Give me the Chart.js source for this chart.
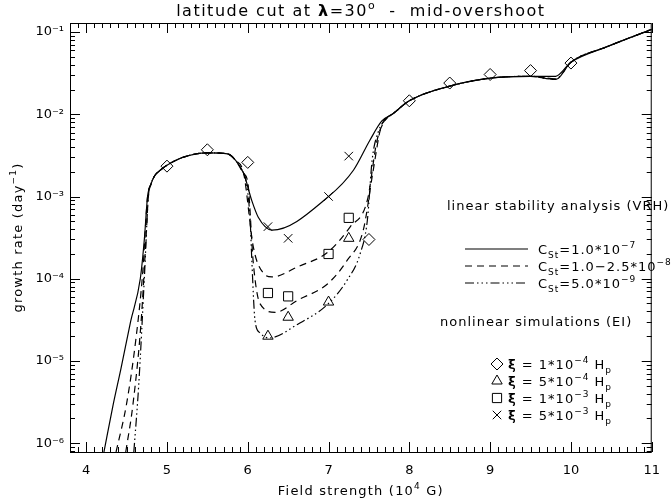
<!DOCTYPE html>
<html>
<head>
<meta charset="utf-8">
<script src="https://cdn.jsdelivr.net/npm/chart.js@4.4.0/dist/chart.umd.min.js"></script>
<style>
html, body { margin: 0; padding: 0; background: #fff; }
</style>
</head>
<body>
<canvas id="grafico" width="671" height="503"></canvas>
<script>
// Datos: campo (10^4 G) y tasa de crecimiento (day^-1)

// Tramos comunes a las tres curvas de estabilidad lineal
const mesetaX = [4.8, 4.85, 4.92, 5.0, 5.2, 5.5, 5.75, 5.85, 5.95];
const mesetaY = [1.4e-3, 1.8e-3, 2.1e-3, 2.4e-3, 3.0e-3, 3.4e-3, 3.3e-3, 2.75e-3, 1.9e-3];
const altoX = [7.8, 8.0, 8.5, 9.0, 9.5];
const altoY = [1.02e-2, 1.46e-2, 2.2e-2, 2.75e-2, 2.9e-2];
const finalX = [10.0, 10.44, 11.0];
const finalY = [4.3e-2, 6.6e-2, 0.108];

// C_St = 1.0e-7 (continua)
const solidaIzqX = [4.22, 4.33, 4.43, 4.55, 4.67, 4.72, 4.76];
const solidaIzqY = [7.8e-7, 2.8e-6, 8e-6, 3e-5, 1e-4, 3e-4, 1e-3];
const solidaMedX = [6.05, 6.13, 6.3, 7.0, 7.31, 7.51, 7.66];
const solidaMedY = [8.9e-4, 5.6e-4, 3.9e-4, 1.0e-3, 2.1e-3, 4.8e-3, 8.3e-3];
const solidaSaltoX = [9.81];
const solidaSaltoY = [2.9e-2];

// C_St = 1.0-2.5e-8 (dos curvas a trazos)
const trazoAIzqX = [4.37, 4.5, 4.62, 4.7, 4.76];
const trazoAIzqY = [7.8e-7, 3e-6, 2e-5, 1.2e-4, 1e-3];
const trazoAMedX = [6.07, 6.2, 6.3, 6.62, 6.99, 7.27, 7.48, 7.6, 7.7];
const trazoAMedY = [2.4e-4, 1.15e-4, 1.05e-4, 1.4e-4, 2.1e-4, 4.3e-4, 9e-4, 4.8e-3, 8.5e-3];
const trazoBIzqX = [4.49, 4.58, 4.68, 4.74, 4.77];
const trazoBIzqY = [7.8e-7, 3e-6, 3e-5, 3e-4, 1e-3];
const trazoBMedX = [6.0, 6.07, 6.15, 6.34, 6.62, 6.99, 7.23, 7.43, 7.55, 7.65];
const trazoBMedY = [1.5e-3, 1.5e-4, 5e-5, 3.9e-5, 5.5e-5, 8.7e-5, 1.67e-4, 3.9e-4, 2e-3, 7e-3];
const trazoSaltoX = [9.81];
const trazoSaltoY = [2.65e-2];

// C_St = 5.0e-9 (trazo-punto)
const puntoIzqX = [4.59, 4.65, 4.72, 4.77];
const puntoIzqY = [7.8e-7, 5e-6, 1e-4, 1e-3];
const puntoMedX = [5.97, 6.03, 6.05, 6.09, 6.15, 6.26, 6.62, 6.99, 7.23, 7.39, 7.48, 7.54, 7.62, 7.7];
const puntoMedY = [1.7e-3, 5.1e-4, 1.7e-4, 3.1e-5, 2.2e-5, 1.9e-5, 2.8e-5, 4.9e-5, 9.6e-5, 2.0e-4, 5.1e-4, 2.8e-3, 6.3e-3, 8.5e-3];
const puntoSaltoX = [9.81];
const puntoSaltoY = [2.7e-2];

// Simulaciones no lineales (EI)
const rombosX = [5.0, 5.5, 6.0, 7.5, 8.0, 8.5, 9.0, 9.5, 10.0];
const rombosY = [2.34e-3, 3.7e-3, 2.6e-3, 3.0e-4, 1.46e-2, 2.4e-2, 3.05e-2, 3.4e-2, 4.2e-2];
const triangulosX = [6.25, 6.5, 7.0, 7.25];
const triangulosY = [2.0e-5, 3.4e-5, 5.2e-5, 3.1e-4];
const cuadradosX = [6.25, 6.5, 7.0, 7.25];
const cuadradosY = [6.7e-5, 6.1e-5, 2.0e-4, 5.5e-4];
const crucesX = [6.25, 6.5, 7.0, 7.25];
const crucesY = [4.3e-4, 3.1e-4, 1.0e-3, 3.1e-3];

// Ejes
const xTicks = [4, 5, 6, 7, 8, 9, 10, 11];
const xTickLabels = ['4', '5', '6', '7', '8', '9', '10', '11'];
const yTicks = [1e-6, 1e-5, 1e-4, 1e-3, 1e-2, 1e-1];
const yTickLabels = ['10⁻⁶', '10⁻⁵', '10⁻⁴', '10⁻³', '10⁻²', '10⁻¹'];

const FUENTE = '"DejaVu Sans", sans-serif';

// Une tramos [x], [y] en una lista de puntos
function unir(...tramos) {
    const puntos = [];
    for (let i = 0; i < tramos.length; i += 2) {
        tramos[i].forEach((x, j) => puntos.push({ x: x, y: tramos[i + 1][j] }));
    }
    return puntos;
}

function linea(datos, dash) {
    return {
        data: datos,
        showLine: true,
        borderColor: '#000',
        borderWidth: 1.2,
        borderDash: dash,
        pointRadius: 0,
        fill: false,
        cubicInterpolationMode: 'monotone'
    };
}

function marcas(xs, ys, estilo, radio) {
    return {
        data: unir(xs, ys),
        showLine: false,
        pointStyle: estilo,
        pointRadius: radio,
        pointBorderColor: '#000',
        pointBackgroundColor: 'rgba(0,0,0,0)',
        pointBorderWidth: 1
    };
}

const DASH = [7, 5];
const DASH_PUNTO = [9, 3, 1.5, 3, 1.5, 3, 1.5, 3];

// Texto con subíndices/superíndices: modo 0 normal, 1 sub, 2 sup, 3 negrita
function textoRico(ctx, partes, x, y, tam, alinear, espacio) {
    const fuente = m => (m === 3 ? 'bold ' : '') + ((m === 1 || m === 2) ? Math.round(tam * 0.7) : tam) + 'px ' + FUENTE;
    ctx.letterSpacing = (espacio === undefined ? 1 : espacio) + 'px';
    let ancho = 0;
    partes.forEach(p => { ctx.font = fuente(p[1]); ancho += ctx.measureText(p[0]).width; });
    let cx = alinear === 'center' ? x - ancho / 2 : x;
    ctx.textAlign = 'left';
    ctx.textBaseline = 'alphabetic';
    partes.forEach(p => {
        ctx.font = fuente(p[1]);
        const dy = p[1] === 1 ? tam * 0.3 : (p[1] === 2 ? -tam * 0.45 : 0);
        ctx.fillText(p[0], cx, y + dy);
        cx += ctx.measureText(p[0]).width;
    });
    ctx.letterSpacing = '0px';
}

const leyendaLineas = [
    { dash: [], partes: [['C', 0], ['St', 1], ['=1.0*10', 0], ['−7', 2]] },
    { dash: DASH, partes: [['C', 0], ['St', 1], ['=1.0−2.5*10', 0], ['−8', 2]] },
    { dash: DASH_PUNTO, partes: [['C', 0], ['St', 1], ['=5.0*10', 0], ['−9', 2]] }
];
const leyendaMarcas = [
    { estilo: 'rectRot', radio: 6, partes: [['ξ', 3], [' = 1*10', 0], ['−4', 2], [' H', 0], ['p', 1]] },
    { estilo: 'triangle', radio: 6, partes: [['ξ', 3], [' = 5*10', 0], ['−4', 2], [' H', 0], ['p', 1]] },
    { estilo: 'rect', radio: 6.5, partes: [['ξ', 3], [' = 1*10', 0], ['−3', 2], [' H', 0], ['p', 1]] },
    { estilo: 'crossRot', radio: 6, partes: [['ξ', 3], [' = 5*10', 0], ['−3', 2], [' H', 0], ['p', 1]] }
];

// Marco, marcas de escala hacia dentro, títulos y leyenda
const decoracion = {
    id: 'decoracion',
    afterDraw(chart) {
        const ctx = chart.ctx;
        const a = chart.chartArea;
        const sx = chart.scales.x;
        const sy = chart.scales.y;
        ctx.save();
        ctx.strokeStyle = '#000';
        ctx.fillStyle = '#000';
        ctx.lineWidth = 1;
        ctx.strokeRect(a.left + 0.5, a.top + 0.5, a.right - a.left - 1, a.bottom - a.top);

        ctx.beginPath();
        for (let i = 38; i <= 110; i++) {
            const v = i / 10;
            const px = Math.round(sx.getPixelForValue(v)) + 0.5;
            const largo = (i % 10 === 0) ? 10 : 5;
            ctx.moveTo(px, a.bottom); ctx.lineTo(px, a.bottom - largo);
            ctx.moveTo(px, a.top); ctx.lineTo(px, a.top + largo);
        }
        for (let e = -7; e <= -1; e++) {
            for (let k = 1; k <= 9; k++) {
                const v = k * Math.pow(10, e);
                if (v < sy.min || v > sy.max) continue;
                const py = Math.round(sy.getPixelForValue(v)) + 0.5;
                const largo = (k === 1) ? 10 : 5;
                ctx.moveTo(a.left, py); ctx.lineTo(a.left + largo, py);
                ctx.moveTo(a.right, py); ctx.lineTo(a.right - largo, py);
            }
        }
        ctx.stroke();

        // Título y ejes
        textoRico(ctx, [['latitude cut at ', 0], ['λ', 3], ['=30', 0], ['o', 2], ['  -  mid-overshoot', 0]],
            (a.left + a.right) / 2, 16, 16, 'center', 1.5);
        textoRico(ctx, [['Field strength (10', 0], ['4', 2], [' G)', 0]], (a.left + a.right) / 2, 495, 13, 'center', 1.2);
        ctx.save();
        ctx.translate(22, (a.top + a.bottom) / 2);
        ctx.rotate(-Math.PI / 2);
        textoRico(ctx, [['growth rate (day', 0], ['−1', 2], [')', 0]], 0, 0, 13, 'center', 1.2);
        ctx.restore();

        // Leyenda
        textoRico(ctx, [['linear stability analysis (VRH)', 0]], 447, 210, 13, 'left');
        leyendaLineas.forEach((item, i) => {
            const y = 249 + i * 17;
            ctx.beginPath();
            ctx.setLineDash(item.dash);
            ctx.lineWidth = 1.2;
            ctx.moveTo(465, y); ctx.lineTo(528, y);
            ctx.stroke();
            ctx.setLineDash([]);
            textoRico(ctx, item.partes, 538, y + 5, 13, 'left');
        });
        textoRico(ctx, [['nonlinear simulations (EI)', 0]], 440, 326, 13, 'left');
        leyendaMarcas.forEach((item, i) => {
            const y = 364 + i * 17;
            ctx.lineWidth = 1;
            ctx.fillStyle = 'rgba(0,0,0,0)';
            Chart.helpers.drawPoint(ctx, { pointStyle: item.estilo, radius: item.radio, borderWidth: 1 }, 497, y);
            ctx.fillStyle = '#000';
            textoRico(ctx, item.partes, 508, y + 5, 13, 'left');
        });
        ctx.restore();
    }
};

new Chart(document.getElementById('grafico'), {
    type: 'scatter',
    data: {
        datasets: [
            linea(unir(solidaIzqX, solidaIzqY, mesetaX, mesetaY, solidaMedX, solidaMedY, altoX, altoY, solidaSaltoX, solidaSaltoY, finalX, finalY), []),
            linea(unir(trazoAIzqX, trazoAIzqY, mesetaX, mesetaY, trazoAMedX, trazoAMedY, altoX, altoY, trazoSaltoX, trazoSaltoY, finalX, finalY), DASH),
            linea(unir(trazoBIzqX, trazoBIzqY, mesetaX, mesetaY, trazoBMedX, trazoBMedY, altoX, altoY, trazoSaltoX, trazoSaltoY, finalX, finalY), DASH),
            linea(unir(puntoIzqX, puntoIzqY, mesetaX, mesetaY, puntoMedX, puntoMedY, altoX, altoY, puntoSaltoX, puntoSaltoY, finalX, finalY), DASH_PUNTO),
            marcas(rombosX, rombosY, 'rectRot', 6),
            marcas(triangulosX, triangulosY, 'triangle', 6),
            marcas(cuadradosX, cuadradosY, 'rect', 6.5),
            marcas(crucesX, crucesY, 'crossRot', 6)
        ]
    },
    options: {
        responsive: false,
        animation: false,
        devicePixelRatio: 1,
        layout: { padding: { top: 23, right: 12, left: 0, bottom: 0 } },
        plugins: { legend: { display: false }, tooltip: { enabled: false } },
        scales: {
            x: {
                type: 'linear',
                min: 3.8,
                max: 11,
                grid: { display: false, drawTicks: false },
                border: { display: false },
                afterBuildTicks: s => { s.ticks = xTicks.map(v => ({ value: v })); },
                afterFit: s => { s.height = 51; },
                ticks: {
                    color: '#000',
                    padding: 11,
                    maxRotation: 0,
                    font: { family: FUENTE, size: 13 },
                    callback: (v, i) => xTickLabels[i]
                }
            },
            y: {
                type: 'logarithmic',
                min: 7.8e-7,
                max: 0.129,
                grid: { display: false, drawTicks: false },
                border: { display: false },
                afterBuildTicks: s => { s.ticks = yTicks.map(v => ({ value: v })); },
                afterFit: s => { s.width = 70; },
                ticks: {
                    color: '#000',
                    padding: 6,
                    font: { family: FUENTE, size: 13 },
                    callback: (v, i) => yTickLabels[i]
                }
            }
        }
    },
    plugins: [decoracion]
});
</script>
